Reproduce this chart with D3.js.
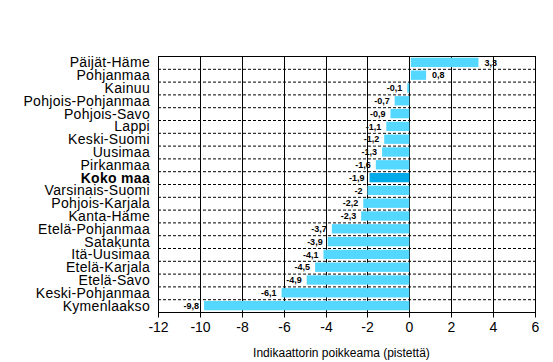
<!DOCTYPE html>
<html>
<head>
<meta charset="utf-8">
<script src="https://cdn.jsdelivr.net/npm/d3@7/dist/d3.min.js"></script>
<style>
  body { margin: 0; background: #fff; }
  svg { display: block; }
  text { font-family: "Liberation Sans", Arial, sans-serif; }
</style>
</head>
<body>
<script>
const categories = ["Päijät-Häme","Pohjanmaa","Kainuu","Pohjois-Pohjanmaa","Pohjois-Savo","Lappi","Keski-Suomi","Uusimaa","Pirkanmaa","Koko maa","Varsinais-Suomi","Pohjois-Karjala","Kanta-Häme","Etelä-Pohjanmaa","Satakunta","Itä-Uusimaa","Etelä-Karjala","Etelä-Savo","Keski-Pohjanmaa","Kymenlaakso"];
const values = [3.3,0.8,-0.1,-0.7,-0.9,-1.1,-1.2,-1.3,-1.6,-1.9,-2,-2.2,-2.3,-3.7,-3.9,-4.1,-4.5,-4.9,-6.1,-9.8];
const xTicks = [-12,-10,-8,-6,-4,-2,0,2,4,6];
const highlight = "Koko maa";
const axisTitle = "Indikaattorin poikkeama (pistettä)";

const W = 553, H = 362;
const m = {left: 158, right: 18, top: 56, bottom: 50};
const svg = d3.select("body").append("svg").attr("width", W).attr("height", H);

const x = d3.scaleLinear().domain([-12, 6]).range([m.left, W - m.right]);
const y = d3.scaleBand().domain(categories).range([m.top, H - m.bottom]).paddingInner(0.27).paddingOuter(0.135);
const step = y.step();

// dashed horizontal separators
const seps = d3.range(1, categories.length);
svg.append("g").selectAll("line").data(seps).join("line")
  .attr("x1", m.left).attr("x2", W - m.right)
  .attr("y1", d => m.top + d * step + 0.5).attr("y2", d => m.top + d * step + 0.5)
  .attr("stroke", "#000").attr("stroke-width", 1).attr("stroke-dasharray", "3,2");

// vertical gridlines
svg.append("g").selectAll("line").data(xTicks).join("line")
  .attr("x1", d => Math.round(x(d)) + 0.5).attr("x2", d => Math.round(x(d)) + 0.5)
  .attr("y1", m.top).attr("y2", H - m.bottom)
  .attr("stroke", "#000").attr("stroke-width", 1);

// top border
svg.append("line").attr("x1", m.left).attr("x2", W - m.right + 1)
  .attr("y1", m.top + 0.5).attr("y2", m.top + 0.5).attr("stroke", "#000");

// bars
svg.append("g").selectAll("rect").data(categories).join("rect")
  .attr("x", (d, i) => x(Math.min(0, values[i])) + (values[i] > 0 ? 1.5 : 0))
  .attr("y", d => y(d))
  .attr("width", (d, i) => Math.max(1, Math.abs(x(values[i]) - x(0)) - (values[i] > 0 ? 1.5 : 0)))
  .attr("height", y.bandwidth())
  .attr("fill", d => d === highlight ? "#00AAE8" : "#55D8FF");

// value labels
svg.append("g").selectAll("text").data(categories).join("text")
  .attr("x", (d, i) => values[i] >= 0 ? x(values[i]) + 6 : x(values[i]) - 5)
  .attr("y", d => y(d) + y.bandwidth() / 2)
  .attr("dy", "0.35em")
  .attr("text-anchor", (d, i) => values[i] >= 0 ? "start" : "end")
  .attr("font-size", 9).attr("font-weight", "bold").attr("fill", "#000")
  .text((d, i) => String(values[i]).replace(".", ","));

// category labels
svg.append("g").selectAll("text").data(categories).join("text")
  .attr("x", m.left - 8)
  .attr("y", d => y(d) + y.bandwidth() / 2)
  .attr("dy", "0.36em")
  .attr("text-anchor", "end")
  .attr("font-size", 14)
  .attr("letter-spacing", "0.3px")
  .attr("font-weight", d => d === highlight ? "bold" : "normal")
  .attr("fill", "#000")
  .text(d => d);

// x axis
const ax = svg.append("g").attr("transform", `translate(0,${H - m.bottom + 0.5})`)
  .call(d3.axisBottom(x).tickValues(xTicks).tickSize(5).tickPadding(5).tickFormat(d => String(d)));
ax.select(".domain").attr("stroke", "#000").attr("d", `M${m.left},0H${W - m.right + 1}`);
ax.selectAll(".tick line").attr("stroke", "#000");
ax.selectAll(".tick").attr("transform", d => `translate(${Math.round(x(d)) + 0.5},0)`);
ax.selectAll(".tick text").attr("font-size", 14).attr("font-family", "Liberation Sans, Arial, sans-serif").attr("fill", "#000");

svg.append("text").attr("x", (m.left + W - m.right) / 2 - 5).attr("y", 357)
  .attr("text-anchor", "middle").attr("font-size", 12).attr("fill", "#000")
  .text(axisTitle);
</script>
</body>
</html>
